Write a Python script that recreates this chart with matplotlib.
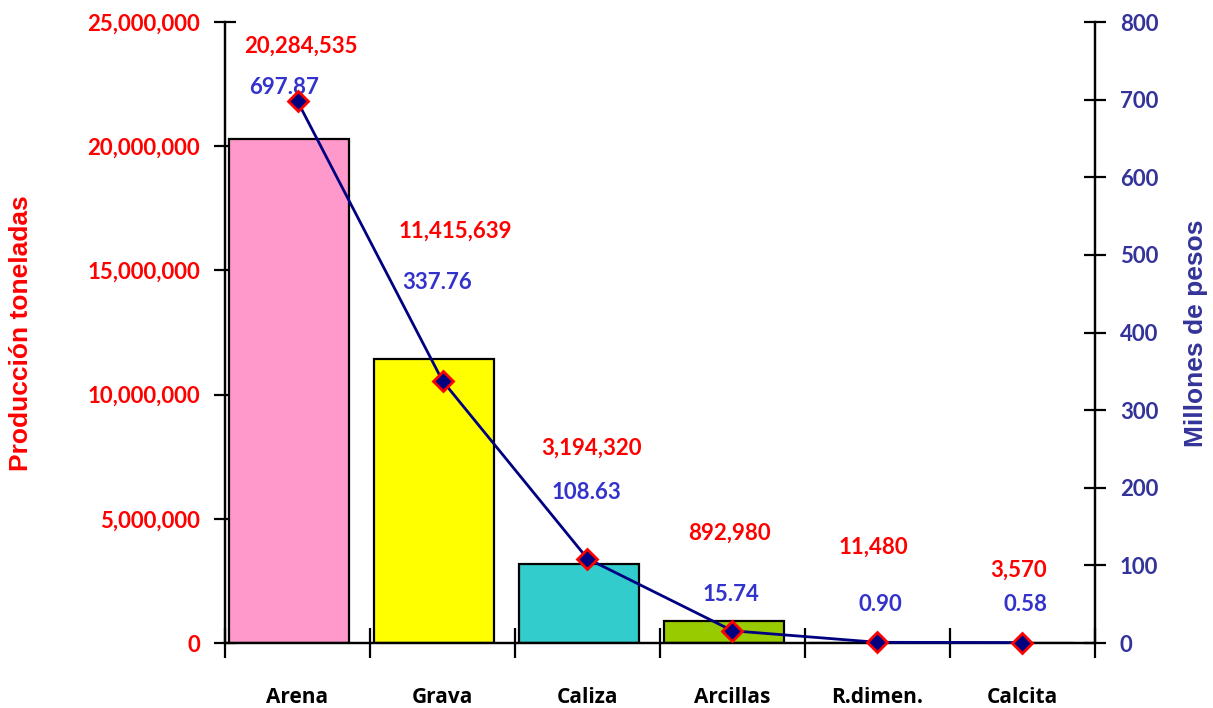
import matplotlib
matplotlib.use("Agg")
import matplotlib.pyplot as plt
import numpy as np

categories = ["Arena", "Grava", "Caliza", "Arcillas", "R.dimen.", "Calcita"]
produccion = [20284535, 11415639, 3194320, 892980, 11480, 3570]
millones = [697.87, 337.76, 108.63, 15.74, 0.90, 0.58]
prod_labels = ["20,284,535", "11,415,639", "3,194,320", "892,980", "11,480", "3,570"]
mill_labels = ["697.87", "337.76", "108.63", "15.74", "0.90", "0.58"]
bar_colors = ["#FF99CC", "#FFFF00", "#33CCCC", "#99CC00", "#9999FF", "#FF8080"]

# label placement (right-axis units / category offsets)
red_lab_y = [769, 531, 251, 142, 124, 94]
blue_lab_y = [716, 465, 194, 62, 49, 49]
red_lab_dx = [0.02, 0.09, 0.03, -0.02, -0.03, -0.03]
blue_lab_dx = [-0.09, -0.04, -0.01, -0.01, 0.02, 0.02]

num_font = "Lato"
num_size = 16
fig = plt.figure(figsize=(12.13, 7.08), dpi=100)
ax = fig.add_axes([0.1855, 0.0918, 0.7172, 0.8771])
ax2 = ax.twinx()

x = np.arange(len(categories))
ax.bar(x - 0.06, produccion, width=0.83, color=bar_colors, edgecolor="black", linewidth=1.6, zorder=2)
ax.set_xlim(-0.5, len(categories) - 0.5)
ax.set_ylim(0, 25000000)
ax.set_yticks(np.arange(0, 25000001, 5000000))
ax.set_yticklabels([f"{v:,}" for v in range(0, 25000001, 5000000)], color="red",
                   fontsize=num_size, fontweight="bold", family=num_font)
ax.set_xticks(x)
ax.set_xticklabels(categories, fontsize=15, fontweight="bold", family="Open Sans")
ax.tick_params(axis="x", which="major", length=0, pad=32)
ax.set_xticks(np.arange(-0.5, len(categories), 1.0), minor=True)
ax.tick_params(axis="x", which="minor", direction="inout", length=22, width=1.6)
ax.tick_params(axis="y", direction="inout", length=16, width=1.6, pad=10)

ax2.plot(x, millones, color="#000080", linewidth=2, marker="D", markersize=10,
         markerfacecolor="#000080", markeredgecolor="red", markeredgewidth=2, zorder=5, clip_on=False)
ax2.set_ylim(0, 800)
ax2.set_yticks(np.arange(0, 801, 100))
ax2.set_yticklabels([str(v) for v in range(0, 801, 100)], color="#333399",
                    fontsize=num_size, fontweight="bold", family=num_font)
ax2.tick_params(axis="y", direction="inout", length=16, width=1.6, pad=10)

for a in (ax, ax2):
    a.spines["top"].set_visible(False)
    for s in ("left", "right", "bottom"):
        a.spines[s].set_linewidth(1.6)

for i in range(len(categories)):
    ax2.text(i + red_lab_dx[i], red_lab_y[i], prod_labels[i], color="red", ha="center", va="center",
             fontsize=num_size, fontweight="bold", family=num_font)
    ax2.text(i + blue_lab_dx[i], blue_lab_y[i], mill_labels[i], color="#3333CC", ha="center", va="center",
             fontsize=num_size, fontweight="bold", family=num_font)

fig.text(0.0175, 0.53, "Producción toneladas", rotation=90, color="red", fontsize=19,
         fontweight="bold", family="Liberation Sans", ha="center", va="center")
fig.text(0.986, 0.53, "Millones de pesos", rotation=90, color="#333399", fontsize=19,
         fontweight="bold", family="Liberation Sans", ha="center", va="center")

fig.savefig("out.png", dpi=100)
